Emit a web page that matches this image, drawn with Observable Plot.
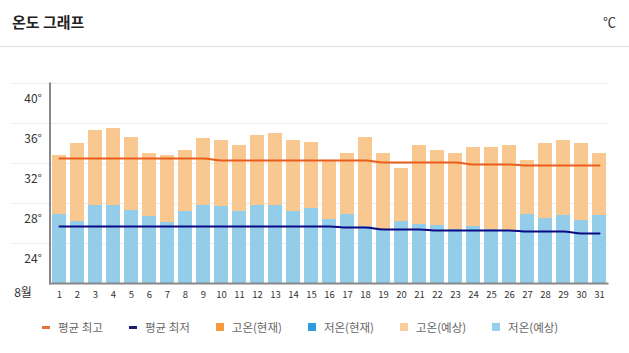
<!DOCTYPE html>
<html>
<head>
<meta charset="utf-8">
<script src="https://cdn.jsdelivr.net/npm/d3@7"></script>
<script src="https://cdn.jsdelivr.net/npm/@observablehq/plot@0.6"></script>
<style>
  body { margin: 0; background: #fff; font-family: "Noto Sans CJK KR", "Noto Sans", sans-serif; }
  #head { position: relative; height: 46px; border-bottom: 1px solid #ddd; }
  #title { position: absolute; left: 12px; top: 12px; font-size: 15px; font-weight: bold; color: #222; line-height: 20px; }
  #unit { position: absolute; right: 13px; top: 12px; font-size: 13px; color: #333; line-height: 20px; }
  #legend { display: flex; align-items: center; padding-left: 42px; margin-top: 14px; height: 16px; font-size: 11.5px; color: #666; }
  .item { display: flex; align-items: center; margin-right: 26px; }
  .sw { margin-right: 8px; }
</style>
</head>
<body>
<div id="head"><div id="title">온도 그래프</div><div id="unit">℃</div></div>
<div id="chart"></div>
<div id="legend"></div>
<script>
const days = [1,2,3,4,5,6,7,8,9,10,11,12,13,14,15,16,17,18,19,20,21,22,23,24,25,26,27,28,29,30,31];
const highForecast = [32.8,34.0,35.3,35.5,34.6,33.0,32.8,33.3,34.5,34.3,33.8,34.8,35.0,34.3,34.1,32.3,33.0,34.6,33.0,31.5,33.8,33.3,33.0,33.6,33.6,33.8,32.3,34.0,34.3,34.0,33.0];
const lowForecast = [26.9,26.2,27.8,27.8,27.3,26.7,26.1,27.2,27.8,27.7,27.2,27.8,27.8,27.2,27.5,26.4,26.9,25.7,25.4,26.2,25.9,25.8,25.4,25.7,25.4,25.3,26.9,26.5,26.8,26.3,26.8];
const avgHigh = [32.5,32.5,32.5,32.5,32.5,32.5,32.5,32.5,32.5,32.3,32.3,32.3,32.3,32.3,32.3,32.3,32.3,32.3,32.1,32.1,32.1,32.1,32.1,31.9,31.9,31.9,31.8,31.8,31.8,31.8,31.8];
const avgLow = [25.7,25.7,25.7,25.7,25.7,25.7,25.7,25.7,25.7,25.7,25.7,25.7,25.7,25.7,25.7,25.7,25.6,25.6,25.4,25.4,25.4,25.3,25.3,25.3,25.3,25.3,25.2,25.2,25.2,25.0,25.0];
const yDomain = [20, 40];
const yTicks = [24, 28, 32, 36, 40];
const monthLabel = "8월";
const legendLabels = ["평균 최고", "평균 최저", "고온(현재)", "저온(현재)", "고온(예상)", "저온(예상)"];
const legendKinds = ["line", "line", "square", "square", "square", "square"];
const legendColors = ["#e0733a", "#1c1c72", "#f79a3e", "#2e9fdc", "#f9cc9c", "#95cfec"];

const colHigh = "#f8c890";
const colLow = "#93cdea";
const colAvgHigh = "#e95e1c";
const colAvgLow = "#0a0a82";

const rows = days.map((d, i) => ({day: d, high: highForecast[i], low: lowForecast[i], ah: avgHigh[i], al: avgLow[i], base: yDomain[0]}));

const chart = Plot.plot({
  width: 629,
  height: 258,
  marginLeft: 49.5,
  marginRight: 21.5,
  marginTop: 36,
  marginBottom: 22,
  style: {background: "#fff", fontFamily: "'Noto Sans CJK KR','Noto Sans',sans-serif", color: "#333"},
  x: {type: "band", domain: days, paddingInner: 0.25, paddingOuter: 0.125, label: null},
  y: {domain: yDomain, label: null},
  marks: [
    Plot.ruleY(yTicks, {stroke: "#ebebeb", strokeWidth: 1, insetLeft: -37}),
    Plot.barY(rows, {x: "day", y1: "base", y2: "high", fill: colHigh}),
    Plot.barY(rows, {x: "day", y1: "base", y2: "low", fill: colLow}),
    Plot.line(rows, {x: "day", y: "ah", stroke: colAvgHigh, strokeWidth: 2, curve: "monotone-x"}),
    Plot.line(rows, {x: "day", y: "al", stroke: colAvgLow, strokeWidth: 2, curve: "monotone-x"}),
    Plot.ruleY([yDomain[0]], {stroke: "#888", strokeWidth: 2, insetRight: -1}),
    Plot.frame({anchor: "left", stroke: "#888", strokeWidth: 2}),
    Plot.axisY(yTicks, {tickSize: 0, tickPadding: 8, dy: 16, fontSize: 12, tickFormat: d => d + "°", label: null}),
    Plot.axisX({tickSize: 0, tickPadding: 8, fontSize: 9.5, label: null}),
    Plot.text([monthLabel], {frameAnchor: "bottom-left", dx: -27, dy: 13, fontSize: 12, fill: "#333", textAnchor: "middle"})
  ]
});
document.getElementById("chart").appendChild(chart);

const legend = document.getElementById("legend");
legendLabels.forEach((lab, i) => {
  const it = document.createElement("div");
  it.className = "item";
  const sw = document.createElement("span");
  sw.className = "sw";
  sw.style.display = "inline-block";
  sw.style.background = legendColors[i];
  if (legendKinds[i] === "line") { sw.style.width = "8px"; sw.style.height = "3px"; }
  else { sw.style.width = "8px"; sw.style.height = "8px"; }
  const tx = document.createElement("span");
  tx.textContent = lab;
  it.appendChild(sw); it.appendChild(tx);
  legend.appendChild(it);
});
</script>
</body>
</html>
